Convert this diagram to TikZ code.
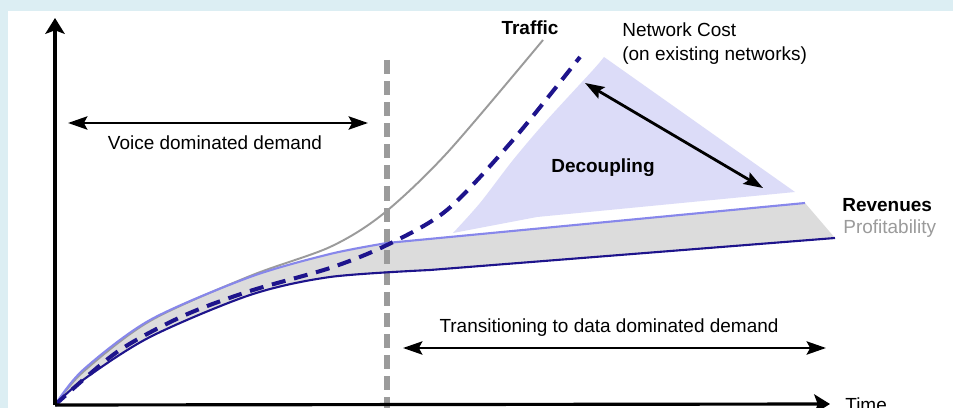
\documentclass[tikz,border=0pt]{standalone}
\usepackage{fontspec}
\setmainfont{Liberation Sans}
\usetikzlibrary{arrows.meta}
\definecolor{framebg}{RGB}{220,238,243}
\definecolor{navy}{RGB}{30,20,140}
\definecolor{revblue}{RGB}{135,135,235}
\definecolor{lavender}{RGB}{220,220,248}
\definecolor{profgray}{RGB}{220,220,220}
\definecolor{midgray}{RGB}{155,155,155}
\tikzset{
 axisline/.style={line width=1.8pt,-{Stealth[length=9pt,width=11pt,inset=2pt]}},
 span/.style={line width=1.6pt,{Stealth[length=11pt,width=7.5pt,inset=2pt]}-{Stealth[length=11pt,width=7.5pt,inset=2pt]}},
 lbl/.style={font=\fontsize{10.8}{13.6}\selectfont,inner sep=0pt},
 bold lbl/.style={lbl,font=\fontsize{10.8}{13.6}\selectfont\bfseries},
}

\begin{document}
\begin{tikzpicture}[x=0.02cm,y=-0.02cm]
\fill[framebg](0,0)rectangle(953,408);
\fill[white](8,11)rectangle(953,408);
\useasboundingbox(0,0)rectangle(953,408);
\coordinate(O)at(55,405);
\coordinate(ytop)at(55,18);\coordinate(xend)at(830,404);
\coordinate(R)at(805,203);\coordinate(P)at(835,238);
\fill[profgray]plot[smooth]coordinates{(55,405)(83,370)(150,320)(250,277)(330,254)(387,243)}--(R)--(P)--(430,270)
 --plot[smooth]coordinates{(430,270)(330,277)(250,295)(150,337)(83,380)(55,405)}--cycle;
\fill[lavender]plot[smooth]coordinates{(453,233)(480,203)(513,160)(547,120)(593,70)(604,57)}--(795,192)--(537,217)--cycle;
\draw[midgray,line width=3.4pt,dash pattern=on 8pt off 4pt](387,60)--(387,408);
\draw[midgray,line width=1.1pt]plot[smooth]coordinates{(55,405)(83,372)(150,321)(250,276)(330,247)(383,214)(447,153)(543,40)};
\draw[revblue,line width=1.2pt]plot[smooth]coordinates{(55,405)(83,370)(150,320)(250,277)(330,254)(387,243)}--(R);
\draw[navy,line width=1.2pt]plot[smooth]coordinates{(55,405)(83,380)(150,337)(250,295)(330,277)(430,270)}--(P);
\draw[navy,line width=2.3pt,dash pattern=on 8pt off 5pt]plot[smooth]coordinates{(55,405)(117,352)(183,316)(250,291)(330,268)(387,245)(447,210)(513,140)(580,57)};
\draw[axisline](O)--(ytop);
\draw[axisline](O)--(xend);
\coordinate(vl)at(68,123);\coordinate(vr)at(368,123);
\draw[span](vl)--(vr);
\coordinate(tl)at(403,348);\coordinate(tr)at(826,348);
\draw[span](tl)--(tr);
\coordinate(dtop)at(585,83);\coordinate(dbot)at(763,188);
\draw[span](dtop)--(dbot);
\node[lbl](voice)at(215,143){Voice dominated demand};
\node[lbl](trans)at(609,328){Transitioning to data dominated demand};
\node[bold lbl](traffic)at(530,28){Traffic};
\node[lbl,anchor=west,align=left](cost)at(622,44){Network Cost\\(on existing networks)};
\node[bold lbl](decoup)at(603,168){Decoupling};
\node[bold lbl,anchor=west](rev)at(842,205){Revenues};
\node[lbl,anchor=west,text=midgray](prof)at(843,229){Profitability};
\node[lbl,anchor=base west](time)at(845,411){Time};
\end{tikzpicture}
\end{document}
